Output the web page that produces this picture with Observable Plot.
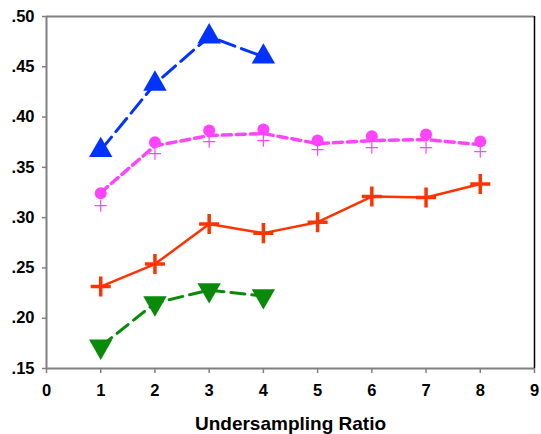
<!DOCTYPE html>
<html>
<head>
<meta charset="utf-8">
<script src="https://cdn.jsdelivr.net/npm/d3@7"></script>
<script src="https://cdn.jsdelivr.net/npm/@observablehq/plot@0.6"></script>
<style>
  html, body { margin: 0; padding: 0; background: #fff; }
  svg text { fill: #000; }
</style>
</head>
<body>
<div id="chart"></div>
<script>
const ratios = [1, 2, 3, 4, 5, 6, 7, 8];
const ratiosShort = [1, 2, 3, 4];
const blueTri = [0.367, 0.433, 0.480, 0.460];
const greenTri = [0.172, 0.215, 0.228, 0.222];
const redPlus = [0.2315, 0.2538, 0.2936, 0.2846, 0.2955, 0.3210, 0.3200, 0.3334];
const pinkCircle = [0.3242, 0.3749, 0.3866, 0.3876, 0.3766, 0.3809, 0.3826, 0.3756];
const pinkLine = [0.3249, 0.3714, 0.3816, 0.3836, 0.3736, 0.3766, 0.3776, 0.3726];
const pinkPlus = [0.3119, 0.3637, 0.3756, 0.3766, 0.3677, 0.3697, 0.3697, 0.3657];
const xTicks = [0, 1, 2, 3, 4, 5, 6, 7, 8, 9];
const yTicks = [0.15, 0.20, 0.25, 0.30, 0.35, 0.40, 0.45, 0.50];
const xLabel = "Undersampling Ratio";

const toRows = (xs, ys) => xs.map((x, i) => ({x, y: ys[i]}));
const blue = toRows(ratiosShort, blueTri);
const green = toRows(ratiosShort, greenTri);
const red = toRows(ratios, redPlus);
const pc = toRows(ratios, pinkCircle);
const pl = toRows(ratios, pinkLine);
const pp = toRows(ratios, pinkPlus);

const BLUE = "#0033ff", GREEN = "#0a8a0a", RED = "#ff3300", PINK = "#ff44ff";

const chart = Plot.plot({
  width: 541,
  height: 434,
  marginLeft: 46,
  marginRight: 7,
  marginTop: 16,
  marginBottom: 66,
  style: {fontFamily: "'Liberation Sans', Arial, sans-serif", background: "#fff"},
  x: {domain: [0, 9]},
  y: {domain: [0.15, 0.50]},
  marks: [
    Plot.axisY(yTicks, {tickSize: 4, tickPadding: 8, stroke: "#808080", strokeWidth: 1.5, fontSize: 16.5, fontWeight: "bold",
      tickFormat: d => d3.format(".2f")(d).replace(/^0/, ""), label: null}),
    Plot.axisX(xTicks, {tickSize: 5, tickPadding: 11, stroke: "#808080", strokeWidth: 1.5, fontSize: 16.5, fontWeight: "bold",
      tickFormat: d => String(d), label: null}),
    Plot.ruleX([0], {stroke: "#808080", strokeWidth: 2}),
    Plot.ruleY([0.50], {stroke: "#808080", strokeWidth: 2}),
    Plot.ruleY([0.15], {stroke: "#808080", strokeWidth: 2}),
    Plot.ruleX([9], {stroke: "#000", strokeWidth: 1.5}),
    Plot.text([xLabel], {frameAnchor: "bottom", lineAnchor: "middle", dy: 55, fontSize: 19, fontWeight: "bold"}),
    // pink series
    Plot.line(pl, {x: "x", y: "y", stroke: PINK, strokeWidth: 3.5, strokeDasharray: "9,5"}),
    Plot.dot(pp, {x: "x", y: "y", symbol: "plus", r: 4, stroke: PINK, strokeWidth: 1.2}),
    Plot.dot(pc, {x: "x", y: "y", symbol: "circle", r: 6, fill: PINK, stroke: "none"}),
    // red
    Plot.line(red, {x: "x", y: "y", stroke: RED, strokeWidth: 2.5}),
    Plot.dot(red, {x: "x", y: "y", symbol: "plus", r: 6.5, stroke: RED, strokeWidth: 3.5}),
    // blue
    Plot.line(blue, {x: "x", y: "y", stroke: BLUE, strokeWidth: 3, strokeDasharray: "17,7"}),
    Plot.dot(blue, {x: "x", y: "y", symbol: "triangle", r: 8.7, fill: BLUE, stroke: "none"}),
    // green
    Plot.line(green, {x: "x", y: "y", stroke: GREEN, strokeWidth: 3, strokeDasharray: "14,7"}),
    Plot.dot(green, {x: "x", y: "y", symbol: "triangle", rotate: 180, r: 8.7, fill: GREEN, stroke: "none"})
  ]
});
document.getElementById("chart").appendChild(chart);
</script>
</body>
</html>
